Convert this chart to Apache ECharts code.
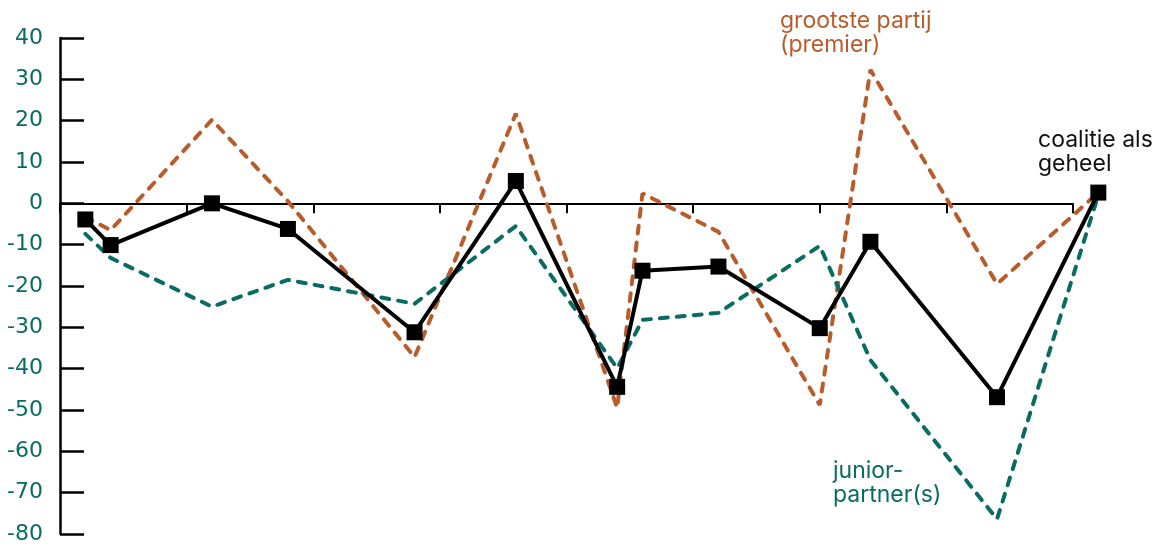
<!DOCTYPE html>
<html>
<head>
<meta charset="utf-8">
<script src="https://cdn.jsdelivr.net/npm/echarts@6/dist/echarts.min.js"></script>
<style>html,body{margin:0;padding:0;background:#fff}#c{width:1153px;height:553px}</style>
</head>
<body>
<div id="c"></div>
<script>
const years = [1981, 1982, 1986, 1989, 1994, 1998, 2002, 2003, 2006, 2010, 2012, 2017, 2021];
const coalitie = [-3.9, -10.1, 0, -6.2, -31.2, 5.4, -44.4, -16.3, -15.3, -30.2, -9.3, -46.9, 2.6];
const grootste = [-3.3, -6.5, 20.2, 0.5, -37.2, 21.7, -49.5, 2.4, -6.9, -48.8, 32.3, -19.5, 2.6];
const junior = [-7.4, -13.2, -25, -18.5, -24.3, -5.5, -39.9, -28.2, -26.5, -10.3, -37.9, -76.4, 2];
const yTicks = [-80, -70, -60, -50, -40, -30, -20, -10, 0, 10, 20, 30, 40];

const ORANGE = '#b95c2c', TEAL = '#0a6b62';
const pair = (arr) => years.map((y, i) => [y, arr[i]]);
const yMin = yTicks[0], yMax = yTicks[yTicks.length - 1];
const PX_PER_YEAR = (1153 - 60 - 80) / 40;

const chart = echarts.init(document.getElementById('c'));
chart.setOption({
  animation: false,
  grid: [
    {left: 60, right: 80, top: 38, bottom: 19},
    {left: 60, right: 80 - PX_PER_YEAR, top: 38, bottom: 19}
  ],
  xAxis: [
    {
      gridIndex: 0, type: 'value', min: 1980, max: 2020, interval: 5,
      axisLine: {onZero: true, lineStyle: {color: '#000', width: 2}},
      axisTick: {show: true, inside: false, length: 10, lineStyle: {color: '#000', width: 2}},
      axisLabel: {show: false},
      splitLine: {show: false}
    },
    {
      gridIndex: 1, type: 'value', min: 1980, max: 2021, show: false,
      splitLine: {show: false}
    }
  ],
  yAxis: [
    {
      gridIndex: 0, type: 'value', min: yMin, max: yMax, interval: 10,
      axisLine: {show: true, onZero: false, lineStyle: {color: '#000', width: 2.5}},
      axisTick: {show: true, inside: true, length: 24, lineStyle: {color: '#000', width: 2.5}},
      axisLabel: {color: TEAL, fontSize: 22, fontFamily: 'DejaVu Sans', margin: 17},
      splitLine: {show: false}
    },
    {
      gridIndex: 1, type: 'value', min: yMin, max: yMax, show: false,
      splitLine: {show: false}
    }
  ],
  series: [
    {type: 'line', xAxisIndex: 1, yAxisIndex: 1, data: pair(grootste), clip: false, symbol: 'none',
     lineStyle: {color: ORANGE, width: 4, type: [8, 9], cap: 'round'}, z: 2},
    {type: 'line', xAxisIndex: 1, yAxisIndex: 1, data: pair(junior), clip: false, symbol: 'none',
     lineStyle: {color: TEAL, width: 4, type: [8, 9], cap: 'round'}, z: 2},
    {type: 'line', xAxisIndex: 1, yAxisIndex: 1, data: pair(coalitie), clip: false, symbol: 'rect', symbolSize: 16,
     itemStyle: {color: '#000'}, lineStyle: {color: '#000', width: 4}, z: 3}
  ],
  graphic: [
    {type: 'text', left: 780, top: 9, style: {text: 'grootste partij\n(premier)', fill: ORANGE, font: '23px Inter', lineHeight: 24}},
    {type: 'text', left: 1038, top: 128, style: {text: 'coalitie als\ngeheel', fill: '#111', font: '23px Inter', lineHeight: 24}},
    {type: 'text', left: 833, top: 459, style: {text: 'junior-\npartner(s)', fill: TEAL, font: '23px Inter', lineHeight: 24}}
  ]
});
</script>
</body>
</html>
